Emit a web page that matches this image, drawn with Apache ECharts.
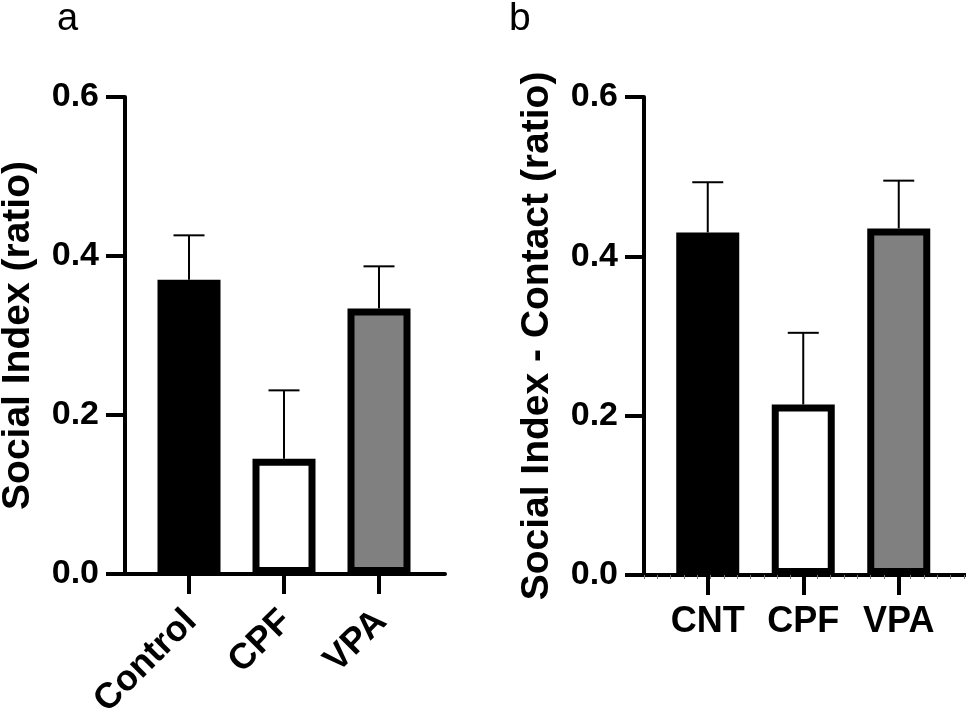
<!DOCTYPE html>
<html>
<head>
<meta charset="utf-8">
<style>html,body{margin:0;padding:0;background:#fff;}#c{width:966px;height:711px;}</style>
<script src="https://cdn.jsdelivr.net/npm/echarts@6/dist/echarts.min.js"></script>
</head>
<body>
<div id="c"></div>
<script>
// ---- data ----
const catsA = ['Control', 'CPF', 'VPA'];
const meanA = [0.370, 0.145, 0.334];
const semA  = [0.056, 0.086, 0.053];
const catsB = ['CNT', 'CPF', 'VPA'];
const meanB = [0.430, 0.214, 0.435];
const semB  = [0.063, 0.090, 0.060];
const yTicks = [0, 0.2, 0.4, 0.6];
const titleA = 'Social Index (ratio)';
const titleB = 'Social Index - Contact (ratio)';

// ---- styles ----
const FONT = '"Liberation Sans", Arial, Helvetica, sans-serif';
const fills = ['#000000', '#ffffff', '#808080'];

const chart = echarts.init(document.getElementById('c'), null, {renderer: 'canvas'});

function frameY(gridIndex, name) {
  return {
    type: 'value', gridIndex, min: yTicks[0], max: yTicks[yTicks.length - 1], interval: 0.2,
    axisLine: {show: true, lineStyle: {color: '#000', width: 4}},
    axisTick: {show: true, length: 19, lineStyle: {color: '#000', width: 4}},
    axisLabel: {color: '#000', fontFamily: FONT, fontWeight: 'bold', fontSize: 34, margin: 26,
      formatter: v => v.toFixed(1)},
    splitLine: {show: false},
    name, nameLocation: 'middle', nameGap: 87,
    nameTextStyle: {color: '#000', fontFamily: FONT, fontWeight: 'bold', fontSize: 39}
  };
}
function hiddenY(gridIndex) {
  return {type: 'value', gridIndex, min: 0, max: 0.6, show: false, splitLine: {show: false}};
}
function frameX(gridIndex, minor) {
  return {
    type: 'value', gridIndex, min: 0, max: minor ? 24.15 : 1, interval: 1,
    axisLine: {show: true, onZero: false, lineStyle: {color: '#000', width: 4}},
    axisTick: {show: !!minor, length: 4, lineStyle: {color: '#777', width: 1}},
    axisLabel: {show: false}, splitLine: {show: false}
  };
}
function catX(gridIndex, cats, opts) {
  return {
    type: 'category', gridIndex, data: cats,
    axisLine: {show: false},
    axisTick: {show: opts.ticks, alignWithLabel: true, length: 20, lineStyle: {color: '#000', width: 4}},
    axisLabel: {show: opts.labels, color: '#000', fontFamily: FONT, fontWeight: 'bold', fontSize: 36,
      rotate: opts.rotate || 0, margin: opts.margin || 0, interval: 0}
  };
}
function bars(xi, yi, means) {
  return {
    type: 'bar', xAxisIndex: xi, yAxisIndex: yi, barWidth: 63, z: 3,
    data: means.map((v, i) => ({value: v, itemStyle: {color: fills[i], borderColor: '#000', borderWidth: 7}})),
    silent: true, animation: false
  };
}
function errs(xi, yi, means, sems) {
  return {
    type: 'custom', xAxisIndex: xi, yAxisIndex: yi, z: 1, silent: true, animation: false,
    data: means.map((m, i) => [i, m, m + sems[i]]),
    renderItem: (params, api) => {
      const p0 = api.coord([api.value(0), api.value(1)]);
      const p1 = api.coord([api.value(0), api.value(2)]);
      const st = {stroke: '#000', lineWidth: 2};
      return {type: 'group', children: [
        {type: 'line', shape: {x1: p0[0], y1: p0[1], x2: p1[0], y2: p1[1]}, style: st},
        {type: 'line', shape: {x1: p1[0] - 15.5, y1: p1[1], x2: p1[0] + 15.5, y2: p1[1]}, style: st}
      ]};
    }
  };
}
function grid(left, width, height) {
  return {left, top: 97, width, height, containLabel: false, outerBoundsMode: 'none'};
}

chart.setOption({
  animation: false,
  backgroundColor: '#fff',
  title: [
    {text: 'a', left: 52, top: -4, textStyle: {fontFamily: FONT, fontWeight: 'normal', fontSize: 38, color: '#000'}},
    {text: 'b', left: 504, top: -5, textStyle: {fontFamily: FONT, fontWeight: 'normal', fontSize: 39, color: '#000'}}
  ],
  grid: [
    grid(125, 320, 477),
    grid(141.5, 285, 477),
    grid(644, 322, 478),
    grid(660, 286.5, 478),
    grid(143.5, 285, 477)
  ],
  xAxis: [
    frameX(0, false),
    catX(1, catsA, {ticks: true, labels: false}),
    frameX(2, true),
    catX(3, catsB, {ticks: true, labels: true, margin: 29}),
    catX(4, catsA, {ticks: false, labels: true, rotate: 45, margin: 42})
  ],
  yAxis: [frameY(0, titleA), hiddenY(1), frameY(2, titleB), hiddenY(3), hiddenY(4)],
  series: [
    errs(1, 1, meanA, semA), bars(1, 1, meanA),
    errs(3, 3, meanB, semB), bars(3, 3, meanB)
  ]
});
</script>
</body>
</html>
